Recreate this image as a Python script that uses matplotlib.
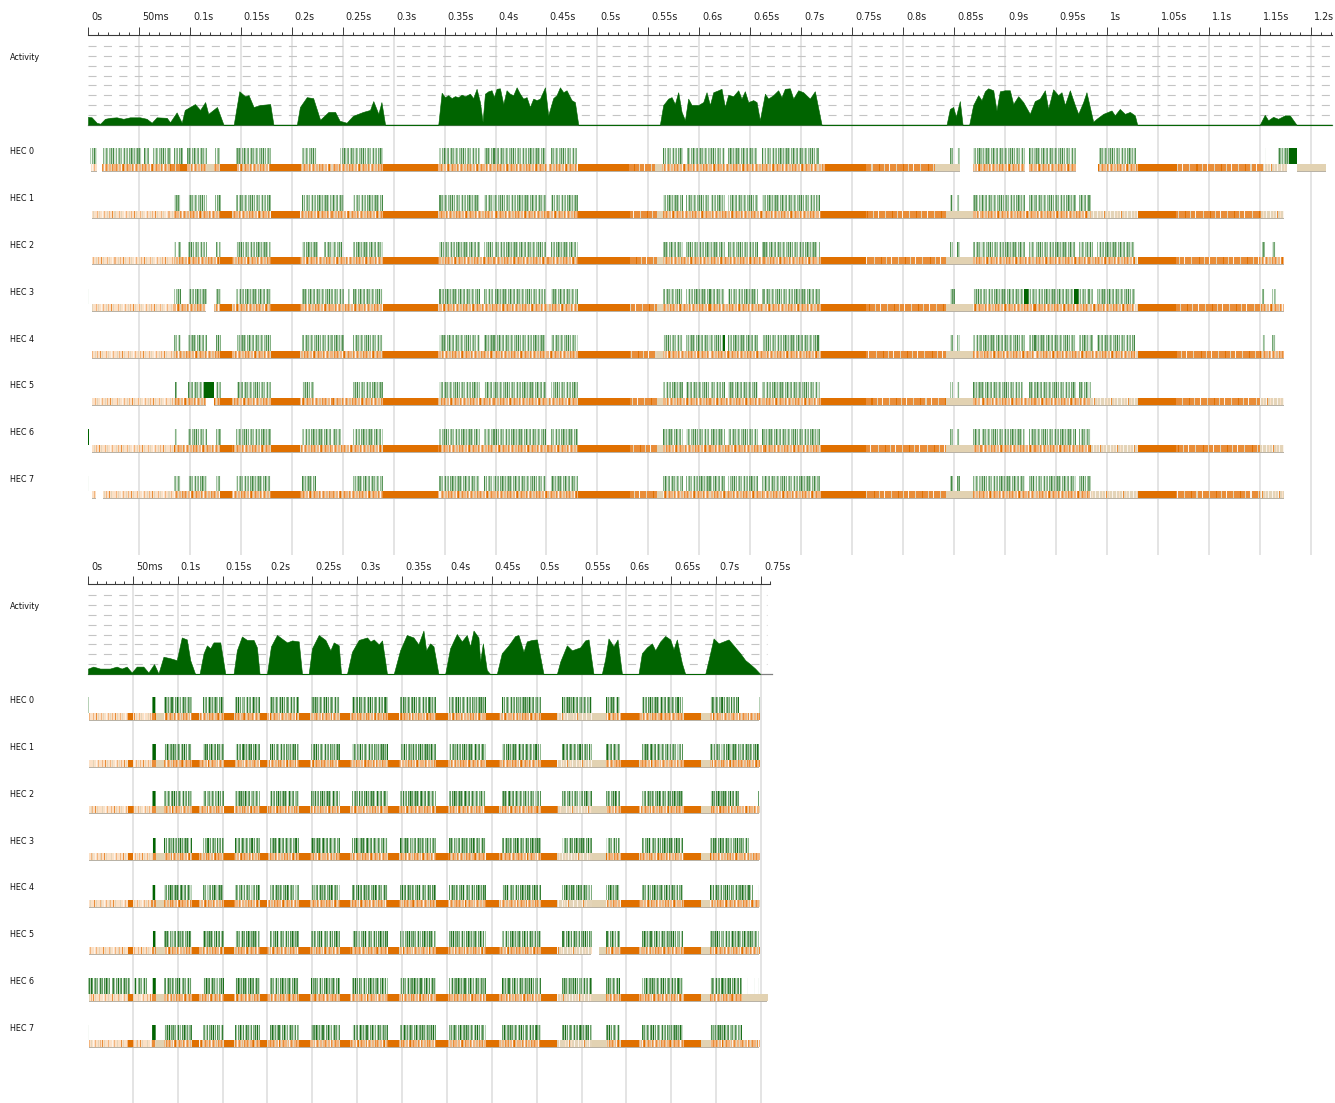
import numpy as np
import matplotlib
matplotlib.use("Agg")
import matplotlib.pyplot as plt
from matplotlib.colors import to_rgba

plt.rcParams["font.family"] = ["DejaVu Sans"]
plt.rcParams["lines.scale_dashes"] = False

FIG_W, FIG_H, DPI = 1335, 1103, 100

# ---------------------------------------------------------------- time axes
top_ticks_ms = [0, 50, 100, 150, 200, 250, 300, 350, 400, 450, 500, 550, 600,
                650, 700, 750, 800, 850, 900, 950, 1000, 1050, 1100, 1150, 1200]
top_tick_labels = ["0s", "50ms", "0.1s", "0.15s", "0.2s", "0.25s", "0.3s",
                   "0.35s", "0.4s", "0.45s", "0.5s", "0.55s", "0.6s", "0.65s",
                   "0.7s", "0.75s", "0.8s", "0.85s", "0.9s", "0.95s", "1s",
                   "1.05s", "1.1s", "1.15s", "1.2s"]
bot_ticks_ms = top_ticks_ms[:16]
bot_tick_labels = top_tick_labels[:16]

hec_names = ["HEC 0", "HEC 1", "HEC 2", "HEC 3", "HEC 4", "HEC 5", "HEC 6", "HEC 7"]

# ------------------------------------------- activity (ms, busy capabilities)
top_activity = [
    (0, 0.8), (3.6, 0.75), (8.5, 0.2), (12, 0.1), (16.7, 0.6), (21.6, 0.7),
    (28.1, 0.75), (34.7, 0.6), (41.2, 0.75), (51, 0.75), (57.6, 0.6),
    (62.5, 0.2), (67.4, 0.75), (77.3, 0.7), (80.5, 0.25), (87, 1.25),
    (92, 0.2), (95, 1.5), (105, 2.1), (110, 1.5), (115, 2.3), (118, 1.1),
    (126.6, 1.8), (133, 0), (143, 0), (148.5, 3.4), (154, 2.9), (157.6, 3.0),
    (162.5, 1.8), (169, 2.0), (178.8, 2.1), (182, 0), (205, 0), (208, 1.8),
    (214.7, 2.8), (221, 2.7), (227.8, 0.5), (236, 1.3), (242.5, 1.3),
    (247, 0.4), (253.8, 0.2), (260, 0.9), (270, 1.3), (276.8, 1.5),
    (280, 2.4), (285, 1.1), (288, 2.3), (291.6, 0), (343.8, 0),
    (347.1, 3.25), (350.3, 2.8), (353.6, 3.0), (356.9, 2.7), (360.1, 2.9),
    (363.4, 2.8), (366.7, 3.05), (370, 2.9), (374.9, 3.15), (378.1, 2.7),
    (381.4, 3.65), (384.7, 2.3), (387.3, 0.3), (389.6, 3.15), (392.9, 3.4),
    (396.1, 3.5), (398.4, 2.8), (401, 3.65), (404.3, 3.7), (407.6, 2.1),
    (410.8, 3.5), (414.1, 3.15), (417.4, 3.0), (420.7, 3.8), (423.9, 3.15),
    (427.2, 2.65), (430.5, 2.8), (433.7, 1.8), (437, 2.65), (440.3, 2.5),
    (443.6, 2.65), (448.5, 3.8), (451.7, 0.95), (456.6, 2.7), (459.9, 3.0),
    (463.2, 3.8), (466.5, 3.3), (469.7, 3.5), (474.6, 2.5), (477.9, 2.3),
    (481.2, 0), (561.3, 0), (564.6, 2.0), (569.5, 2.65), (572.8, 2.8),
    (576, 2.1), (579.3, 3.3), (582.6, 1.3), (585.9, 0.45), (589.1, 2.65),
    (592.4, 2.0), (599, 2.0), (603.9, 2.3), (607.1, 3.3), (610.4, 2.0),
    (613.7, 3.3), (618.6, 3.5), (621.8, 3.65), (625.1, 1.8), (628.4, 3.05),
    (633.3, 2.9), (638.2, 3.5), (641.4, 2.65), (644.7, 3.4), (648, 2.3),
    (652.9, 2.5), (656.2, 2.3), (659.4, 0.45), (664.4, 3.15), (667.6, 2.65),
    (672.5, 3.0), (677.4, 3.5), (680.7, 2.8), (684, 3.65), (688.9, 3.7),
    (692.2, 2.65), (697.1, 3.5), (702, 3.3), (708.5, 2.65), (713.4, 3.4),
    (720, 0), (842.7, 0), (845.9, 1.6), (849.2, 1.8), (851.8, 0.8),
    (855.7, 2.4), (858.4, 0), (864.9, 0), (868.8, 2.0), (873.7, 3.0),
    (877, 2.5), (880.3, 3.4), (883.5, 3.7), (888.5, 3.5), (891.7, 1.45),
    (895, 3.4), (899.9, 3.5), (904.8, 3.5), (908.1, 2.1), (913, 2.9),
    (917.9, 2.3), (924.4, 1.1), (929.3, 2.4), (934.2, 2.65), (939.2, 3.5),
    (942.4, 1.6), (947.3, 3.6), (952.2, 3.0), (955.5, 3.3), (958.8, 2.0),
    (963.7, 3.5), (968.6, 2.0), (971.9, 1.1), (976.8, 2.3), (980, 3.3),
    (986.6, 0.3), (989.9, 0.6), (996.4, 1.1), (1004.6, 1.45), (1007.8, 0.95),
    (1012.7, 1.6), (1017.7, 1.1), (1022.6, 1.3), (1027.5, 0.95), (1029.8, 0),
    (1150.1, 0), (1155, 1.0), (1158.3, 0.45), (1163.2, 0.8), (1168.1, 0.6),
    (1174.7, 0.95), (1179.6, 0.95), (1186.1, 0), (1221, 0),
]

bot_activity = [
    (0, 0.55), (5.9, 0.75), (13.4, 0.55), (24.5, 0.55), (31.9, 0.75),
    (37.5, 0.55), (43.1, 0.75), (48.7, 0.15), (54.3, 0.75), (61.7, 0.75),
    (67.3, 0.15), (73.6, 1.0), (78.5, 0.05), (84.1, 1.75), (91.5, 1.6),
    (98.9, 1.4), (104.5, 3.7), (110.1, 3.5), (113.9, 1.4), (119.4, 0),
    (124.3, 0), (128.8, 2.1), (132.5, 2.9), (136.2, 2.6), (139.9, 3.2),
    (147.4, 3.2), (153, 0), (162.2, 0), (165.9, 2.4), (171.5, 3.8),
    (177.1, 3.45), (184.5, 3.45), (188.2, 2.7), (191.2, 0), (199.4, 0),
    (203.9, 2.8), (210.6, 3.95), (218, 3.45), (221.8, 3.2), (227.4, 3.4),
    (234.8, 3.3), (238.5, 0), (245.9, 0), (249.6, 2.6), (257.1, 3.95),
    (264.5, 3.45), (270.1, 2.4), (273.8, 3.2), (279.4, 2.9), (282, 0),
    (288.6, 0), (294.2, 2.25), (301.7, 3.45), (311, 3.7), (314.7, 3.3),
    (318.4, 3.5), (324, 3.0), (327.7, 3.4), (333.2, 0), (340.7, 0),
    (347.8, 2.4), (355.2, 3.95), (362.7, 3.7), (368.2, 3.0), (373.8, 4.4),
    (376.8, 2.4), (381.2, 3.1), (385, 2.8), (390.5, 0), (398, 0),
    (403.5, 2.6), (411, 4.05), (416.5, 3.3), (422.1, 3.95), (425.8, 2.8),
    (429.6, 4.4), (435.1, 3.7), (437, 1.25), (440, 3.1), (444.4, 0.4),
    (448.1, 0), (455.6, 0), (461.1, 2.1), (468.6, 2.9), (476, 3.85),
    (479.7, 3.95), (485.3, 2.25), (489, 3.3), (494.6, 3.45), (500.2, 3.5),
    (507.6, 0), (522.5, 0), (526.2, 1.25), (533.6, 2.9), (539.2, 2.4),
    (548.5, 2.7), (554, 3.4), (557.8, 3.5), (563.3, 0), (572.6, 0),
    (576.3, 1.5), (580, 3.6), (585.6, 2.8), (590.1, 3.5), (595, 0),
    (613.5, 0), (617.2, 2.1), (622.8, 2.7), (628.4, 3.1), (632.1, 2.4),
    (637.7, 3.3), (643.2, 3.85), (648.8, 3.5), (652.5, 2.5), (656.2, 3.5),
    (661.8, 1.1), (665.5, 0), (687.8, 0), (691.5, 1.4), (697.1, 3.6),
    (702.7, 3.1), (708.2, 3.3), (713.8, 3.5), (719.4, 2.9), (726.8, 2.1),
    (732.4, 1.4), (737.9, 1.0), (743.5, 0.55), (749.1, 0),
]

# --------------------------------------- run 1: mutator spans per HEC (ms)
top_run_mid = [(345, 385), (389, 450), (454, 481), (564, 584), (587, 625),
               (628, 658), (662, 718)]
top_run_0 = [(2, 9), (15, 53), (55, 60), (64, 81), (84, 93), (97, 117),
             (125, 130), (145, 180), (210, 225), (247, 290), (345, 385),
             (389, 450), (454, 480), (564, 584), (588, 625), (628, 657),
             (662, 717), (846, 849), (853, 856), (869, 920), (924, 970),
             (992, 1029), (1155, 1156), (1168, 1179)]
top_run_1 = [(84, 91), (98, 117), (125, 131), (145, 180), (210, 251),
             (260, 290)] + top_run_mid + [(846, 849), (853, 856), (869, 920),
                                          (924, 970), (973, 984)]
top_run_2 = [(84, 86), (88, 91), (98, 117), (126, 131), (145, 180),
             (210, 226), (232, 249), (260, 290)] + top_run_mid + [
             (846, 849), (853, 856), (869, 920), (924, 970), (973, 986),
             (990, 1028), (1152, 1155), (1162, 1166)]
top_run_3 = [(0, 1), (84, 91), (98, 117), (126, 131), (145, 180), (210, 251),
             (255, 257), (260, 290)] + top_run_mid + [
             (846, 851), (869, 919), (923, 968), (972, 986), (990, 1028),
             (1152, 1155), (1162, 1166)]
top_run_4 = [(84, 91), (98, 117), (126, 131), (146, 180), (210, 251),
             (260, 290)] + top_run_mid + [(846, 849), (853, 856), (869, 920),
                                          (924, 970), (973, 986), (990, 1028),
                                          (1152, 1155), (1162, 1166)]
top_run_5 = [(85, 87), (98, 114), (126, 131), (146, 180), (210, 222),
             (260, 290)] + top_run_mid + [(846, 849), (853, 856), (869, 918),
                                          (924, 970), (973, 984)]
top_run_6 = [(84, 87), (98, 117), (126, 131), (145, 180), (210, 248),
             (260, 290)] + top_run_mid + [(846, 849), (853, 856), (869, 920),
                                          (924, 970), (973, 984)]
top_run_7 = [(0, 1), (84, 91), (98, 117), (126, 131), (145, 180), (210, 224),
             (260, 290)] + top_run_mid + [(846, 849), (853, 856), (869, 920),
                                          (924, 970), (973, 984)]

# long uninterrupted mutator slices
top_solid_0 = [(1179, 1187)]
top_solid_3 = [(919, 923), (968, 972)]
top_solid_4 = [(623, 625)]
top_solid_5 = [(114, 124)]
top_solid_6 = [(0, 1)]

# GC / idle spans: D = GC, L = frequent minor GCs, P = sparse minor GCs,
# M = mostly GC, W = mostly idle, B = idle
top_gc_mid = [(130, 141, "D"), (141, 180, "L"), (180, 208, "D"),
              (208, 290, "L"), (290, 344, "D"), (344, 481, "L"),
              (481, 532, "D"), (532, 558, "M"), (558, 564, "B"),
              (564, 719, "L"), (719, 764, "D"), (764, 842, "M"),
              (842, 869, "B")]
top_gc_0 = [(3, 9, "P"), (14, 80, "L"), (80, 90, "M"), (90, 97, "D"),
            (97, 117, "L"), (117, 124, "B"), (124, 130, "L"), (130, 146, "D"),
            (146, 180, "L"), (180, 208, "D"), (208, 290, "L"), (290, 344, "D"),
            (344, 481, "L"), (481, 531, "D"), (531, 557, "M"), (557, 563, "B"),
            (563, 723, "L"), (723, 764, "D"), (764, 831, "M"), (831, 856, "B"),
            (869, 920, "L"), (924, 970, "L"), (991, 1031, "L"),
            (1031, 1069, "D"), (1069, 1154, "M"), (1154, 1177, "W"),
            (1187, 1215, "B")]
top_gc_1 = [(4, 84, "P"), (84, 130, "L")] + top_gc_mid + [
            (869, 984, "L"), (984, 1031, "W"), (1031, 1068, "D"),
            (1068, 1150, "M"), (1150, 1174, "W")]
top_gc_2 = [(4, 84, "P"), (84, 130, "L")] + top_gc_mid + [
            (869, 1028, "L"), (1028, 1031, "W"), (1031, 1068, "D"),
            (1068, 1150, "M"), (1150, 1174, "L")]
top_gc_3 = [(4, 84, "P"), (84, 116, "L"), (124, 130, "L")] + top_gc_mid + [
            (869, 1028, "L"), (1028, 1031, "W"), (1031, 1068, "D"),
            (1068, 1150, "M"), (1150, 1174, "L")]
top_gc_4 = [(4, 84, "P"), (84, 130, "L")] + top_gc_mid + [
            (869, 1028, "L"), (1028, 1031, "W"), (1031, 1068, "D"),
            (1068, 1150, "M"), (1150, 1174, "L")]
top_gc_5 = [(4, 84, "P"), (84, 116, "L"), (124, 130, "L")] + top_gc_mid + [
            (869, 984, "L"), (984, 1031, "W"), (1031, 1068, "D"),
            (1068, 1150, "M"), (1150, 1174, "W")]
top_gc_6 = [(4, 84, "P"), (84, 130, "L")] + top_gc_mid + [
            (869, 984, "L"), (984, 1031, "W"), (1031, 1068, "D"),
            (1068, 1150, "M"), (1150, 1174, "W")]
top_gc_7 = [(4, 8, "P"), (15, 84, "P"), (84, 130, "L")] + top_gc_mid + [
            (869, 984, "L"), (984, 1031, "W"), (1031, 1068, "D"),
            (1068, 1150, "M"), (1150, 1174, "W")]

# --------------------------------------------- run 2: spans per HEC (ms)
bot_run_mid = [(71, 76), (85, 116), (128, 151), (164, 191), (203, 235),
               (248, 280), (294, 334), (347, 387), (402, 443), (461, 504),
               (527, 561), (576, 592), (616, 662)]
bot_run_0 = [(0, 1)] + bot_run_mid + [(692, 724), (747, 748)]
bot_run_1 = bot_run_mid + [(692, 747)]
bot_run_2 = bot_run_mid + [(692, 724), (746, 747)]
bot_run_3 = bot_run_mid + [(692, 735)]
bot_run_4 = bot_run_mid + [(692, 740), (746, 747)]
bot_run_5 = bot_run_mid + [(692, 747)]
bot_run_6 = [(0, 24), (27, 47), (51, 66)] + bot_run_mid + [
             (692, 728), (733, 734), (741, 742), (746, 747)]
bot_run_7 = [(0, 1)] + bot_run_mid + [(692, 728)]
bot_solid = [(72, 75)]

bot_gc_head = [(1, 45, "P"), (45, 50, "D"), (50, 71, "P"), (71, 76, "M"),
               (76, 85, "B")]
bot_gc_mid = [(85, 116, "L"), (116, 123, "D"), (123, 151, "L"),
              (151, 163, "D"), (163, 191, "L"), (191, 199, "D"),
              (199, 235, "L"), (235, 247, "D"), (247, 280, "L"),
              (280, 292, "D"), (292, 334, "L"), (334, 346, "D"),
              (346, 387, "L"), (387, 401, "D"), (401, 443, "L"),
              (443, 457, "D"), (457, 504, "L"), (504, 522, "D"),
              (522, 561, "W")]
bot_gc_tail = [(561, 576, "B"), (576, 593, "L"), (593, 613, "D"),
               (613, 663, "L"), (663, 682, "D"), (682, 692, "B"),
               (692, 748, "L")]
bot_gc_0 = bot_gc_head + bot_gc_mid + bot_gc_tail
bot_gc_1 = bot_gc_head + bot_gc_mid + bot_gc_tail
bot_gc_2 = bot_gc_head + bot_gc_mid + bot_gc_tail
bot_gc_3 = bot_gc_head + bot_gc_mid + bot_gc_tail
bot_gc_4 = bot_gc_head + bot_gc_mid + bot_gc_tail
bot_gc_5 = bot_gc_head + bot_gc_mid + [(569, 576, "B")] + bot_gc_tail[1:]
bot_gc_6 = bot_gc_head + bot_gc_mid + bot_gc_tail[:-1] + [
           (692, 728, "L"), (728, 757, "B")]
bot_gc_7 = bot_gc_head + bot_gc_mid + bot_gc_tail

# ----------------------------------------------------------- styling
GREEN_BASE = to_rgba("#1b6f1b")
GREEN_SOLID = to_rgba("#006400")
# per-millisecond shade pattern for the striped mutator bars
GREEN_TEX = "5830629415703846127405382916047350281460739526148"
GREEN_ALPHA = [0.04, 0.2, 0.3, 0.38, 0.46, 0.54, 0.63, 0.72, 0.84, 0.97]

GC_TEX = {
    "L": "lolbllwodlblolllbolwlolbllbol",
    "P": "pplpbppwplppbplppopbp",
    "M": "ooooboooooodooooboooowoo",
    "W": "bwbbpbbwobbpbbwbb",
}
GC_SOLID = {"D": to_rgba("#e07000"), "B": to_rgba("#e2d2b2")}
GC_SHADE = {k: to_rgba(v) for k, v in {
    "p": "#fbe0c6", "l": "#f2b47d", "o": "#e98d38", "b": "#e4d4b8",
    "d": "#e07000", "w": "#fbf3ea"}.items()}

GRID_C = "#e4e4e4"
AXIS_C = "#3a3a3a"

TOP = dict(x0=88, x1=1332, xmax=1221, axis_y=35.0, grid_end=555,
           act_top=46.0, act_base=124.7, dash_end=1221, base_end=1221,
           row0=148.3, step=46.8, boost=0.85)
BOT = dict(x0=88, x1=770, xmax=760, axis_y=584.3, grid_end=1103,
           act_top=595.0, act_base=674.0, dash_end=757, base_end=762,
           row0=697.3, step=46.8, boost=1.05)
GREEN_H, GC_H, EDGE_H = 15.5, 7.0, 1.0


def px_axes(fig, x0, y0, x1, y1):
    ax = fig.add_axes([x0 / FIG_W, 1 - y1 / FIG_H,
                       (x1 - x0) / FIG_W, (y1 - y0) / FIG_H])
    ax.patch.set_alpha(0)
    return ax


def run_strip(n, runs, solids, phase, boost):
    img = np.zeros((1, n, 4))
    for s, e in runs:
        for i in range(s, min(max(e, s + 1), n)):
            d = int(GREEN_TEX[(i + phase) % len(GREEN_TEX)])
            img[0, i, :3] = GREEN_BASE[:3]
            img[0, i, 3] = min(1.0, GREEN_ALPHA[d] * boost)
    for s, e in solids:
        img[0, s:e] = GREEN_SOLID
    return img


def gc_strip(n, spans, phase):
    img = np.zeros((1, n, 4))
    for s, e, kind in spans:
        for i in range(s, min(e, n)):
            if kind in GC_SOLID:
                img[0, i] = GC_SOLID[kind]
            else:
                tex = GC_TEX[kind]
                img[0, i] = GC_SHADE[tex[(i + phase) % len(tex)]]
    return img


def draw_panel(fig, P, ticks, labels, activity, runs, solids, gcs):
    x0, x1, xmax = P["x0"], P["x1"], P["xmax"]

    # time ruler + vertical grid
    bg = px_axes(fig, x0, P["axis_y"], x1, P["grid_end"])
    bg.set_xlim(0, xmax)
    bg.set_ylim(0, 1)
    for t in ticks[1:]:
        bg.axvline(t, color=GRID_C, lw=1.4, zorder=0)
    for side in ("left", "right", "bottom"):
        bg.spines[side].set_visible(False)
    bg.spines["top"].set_color(AXIS_C)
    bg.spines["top"].set_linewidth(0.8)
    bg.xaxis.tick_top()
    bg.set_xticks(ticks)
    bg.set_xticks([t for t in range(0, xmax + 1, 10) if t % 50], minor=True)
    bg.set_yticks([])
    bg.tick_params(axis="x", which="major", length=6.0, width=0.7,
                   colors=AXIS_C, direction="out", labeltop=False)
    bg.tick_params(axis="x", which="minor", length=2.4, width=0.7,
                   colors=AXIS_C, direction="out")
    for t, lab in zip(ticks, labels):
        bg.annotate(lab, xy=(t, 1), xycoords=("data", "axes fraction"),
                    xytext=(3.0, 17.7), textcoords="offset pixels",
                    ha="left", va="center", fontsize=6.9, color="#222222",
                    annotation_clip=False)

    # activity profile
    act = px_axes(fig, x0, P["act_top"], x1, P["act_base"])
    act.set_xlim(0, xmax)
    act.set_ylim(0, 8)
    act.set_axis_off()
    for k in range(1, 9):
        act.plot([0, P["dash_end"]], [k, k], color="#c4c4c4", lw=0.8,
                 dashes=(5.8, 5.3), clip_on=False, zorder=1)
    act.plot([0, P["base_end"]], [0, 0], color="#808080", lw=0.9,
             clip_on=False, zorder=2)
    t = np.array([p[0] for p in activity])
    v = np.array([p[1] for p in activity])
    act.fill_between(t, v, 0, color="#006400", lw=0.4, zorder=3)
    fig.text(10 / FIG_W, 1 - (P["act_top"] + 11.7) / FIG_H, "Activity",
             fontsize=5.8, ha="left", va="center", color="#111111")

    # per-HEC timelines
    n = xmax
    total_h = GREEN_H + GC_H + EDGE_H
    for k in range(8):
        gy = P["row0"] + k * P["step"]
        ax = px_axes(fig, x0, gy, x1, gy + total_h)
        phase = 11 * k + (5 if P is BOT else 0)
        ax.imshow(run_strip(n, runs[k], solids[k], phase, P["boost"]),
                  extent=(0, n, GREEN_H, 0), aspect="auto",
                  interpolation="nearest")
        ax.imshow(gc_strip(n, gcs[k], phase + 3),
                  extent=(0, n, GREEN_H + GC_H, GREEN_H), aspect="auto",
                  interpolation="nearest")
        ax.broken_barh([(s, e - s) for s, e, _ in gcs[k]],
                       (GREEN_H + GC_H, EDGE_H), facecolors="#b8b2a6", lw=0)
        ax.set_xlim(0, xmax)
        ax.set_ylim(total_h, 0)
        ax.set_axis_off()
        fig.text(10 / FIG_W, 1 - (gy + 3.5) / FIG_H, hec_names[k],
                 fontsize=5.8, ha="left", va="center", color="#111111")


fig = plt.figure(figsize=(FIG_W / DPI, FIG_H / DPI), dpi=DPI)
fig.patch.set_facecolor("white")

draw_panel(fig, TOP, top_ticks_ms, top_tick_labels, top_activity,
           [top_run_0, top_run_1, top_run_2, top_run_3,
            top_run_4, top_run_5, top_run_6, top_run_7],
           [top_solid_0, [], [], top_solid_3, top_solid_4, top_solid_5,
            top_solid_6, []],
           [top_gc_0, top_gc_1, top_gc_2, top_gc_3,
            top_gc_4, top_gc_5, top_gc_6, top_gc_7])

draw_panel(fig, BOT, bot_ticks_ms, bot_tick_labels, bot_activity,
           [bot_run_0, bot_run_1, bot_run_2, bot_run_3,
            bot_run_4, bot_run_5, bot_run_6, bot_run_7],
           [bot_solid] * 8,
           [bot_gc_0, bot_gc_1, bot_gc_2, bot_gc_3,
            bot_gc_4, bot_gc_5, bot_gc_6, bot_gc_7])

fig.savefig("out.png", dpi=DPI)
